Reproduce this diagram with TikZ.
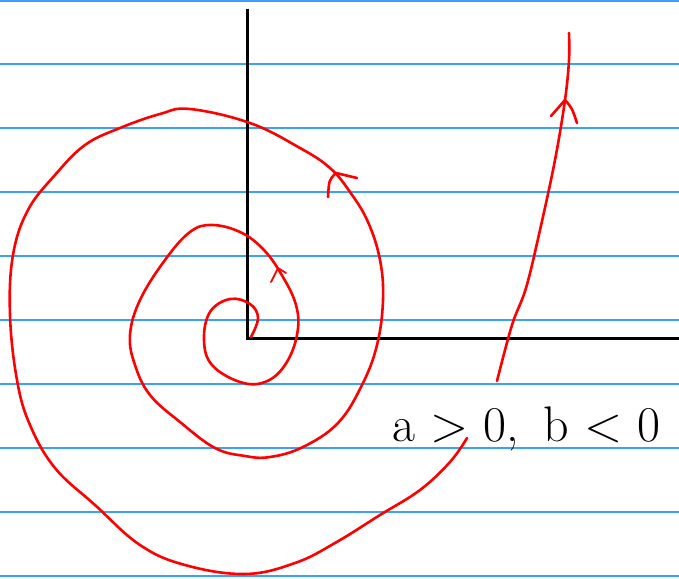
\documentclass[tikz,border=0pt]{standalone}
\usepackage{fontspec}
\begin{document}
\begin{tikzpicture}[x=1pt,y=-1pt,
  ruling/.style={draw={rgb,255:red,60;green,160;blue,255}, line width=1.6pt},
  axis/.style={draw=black, line width=3pt},
  curve/.style={draw=red, line width=2.6pt, line cap=round, line join=round},
  lbl/.style={font=\fontsize{50}{50}\selectfont, text=black, inner sep=0pt}]
\useasboundingbox (0,0) rectangle (679,578);
\fill[white] (0,0) rectangle (679,578);
\foreach \yy in {0.8,64,128,192,256,320,384,448,512,576}
  \draw[ruling] (0,\yy) -- (679,\yy);
% axes
\coordinate (O) at (247,338);
\coordinate (ytop) at (247,9);
\coordinate (xend) at (679,338);
\draw[axis] (ytop) -- (O) -- (xend);
% spiral
\draw[curve] plot[smooth, tension=0.65] coordinates {
 (251,337) (258,318) (250,304) (230,299) (210,312) (204,340) (212,365) (240,382) (265,382) (285,365) (297,335) (296,305) (280,272) (262,248) (240,232) (212,225) (190,232) (165,260) (140,300) (130,335) (135,365) (150,395) (180,422) (215,448) (245,456) (270,457) (303,447) (338,423) (362,385) (377,345) (383,300) (380,260) (368,222) (350,192) (330,168) (300,148) (250,123) (190,109) (160,114) (120,128) (85,145) (55,175) (28,210) (13,255) (10,315) (17,380) (30,425) (55,468) (95,505) (140,545) (185,565) (245,574) (295,563) (335,543) (380,515) (420,490) (450,462) (467,438)};
% arrowheads on spiral
\coordinate (a1) at (336,173);
\coordinate (a1r) at (357,178);
\coordinate (a1d) at (328,197);
\draw[curve] (a1r) -- (a1) .. controls (329,180) .. (a1d);
\coordinate (a2) at (278,268);
\coordinate (a2r) at (286,273);
\coordinate (a2d) at (271,282);
\draw[curve, line width=1.8pt] (a2r) -- (a2) -- (a2d);
% right line
\draw[curve] plot[smooth, tension=0.6] coordinates {
 (497,381) (512,325) (526,288) (540,230) (555,160) (565,100) (569,60) (569,33)};
\coordinate (a3) at (565,100);
\coordinate (a3l) at (551,116);
\coordinate (a3r) at (577,123);
\draw[curve] (a3l) -- (a3) .. controls (572,108) .. (a3r);
% label
\node[lbl, anchor=base west] (lab) at (392,441) {a > 0,\hspace{0.5em}b < 0};
\end{tikzpicture}
\end{document}
